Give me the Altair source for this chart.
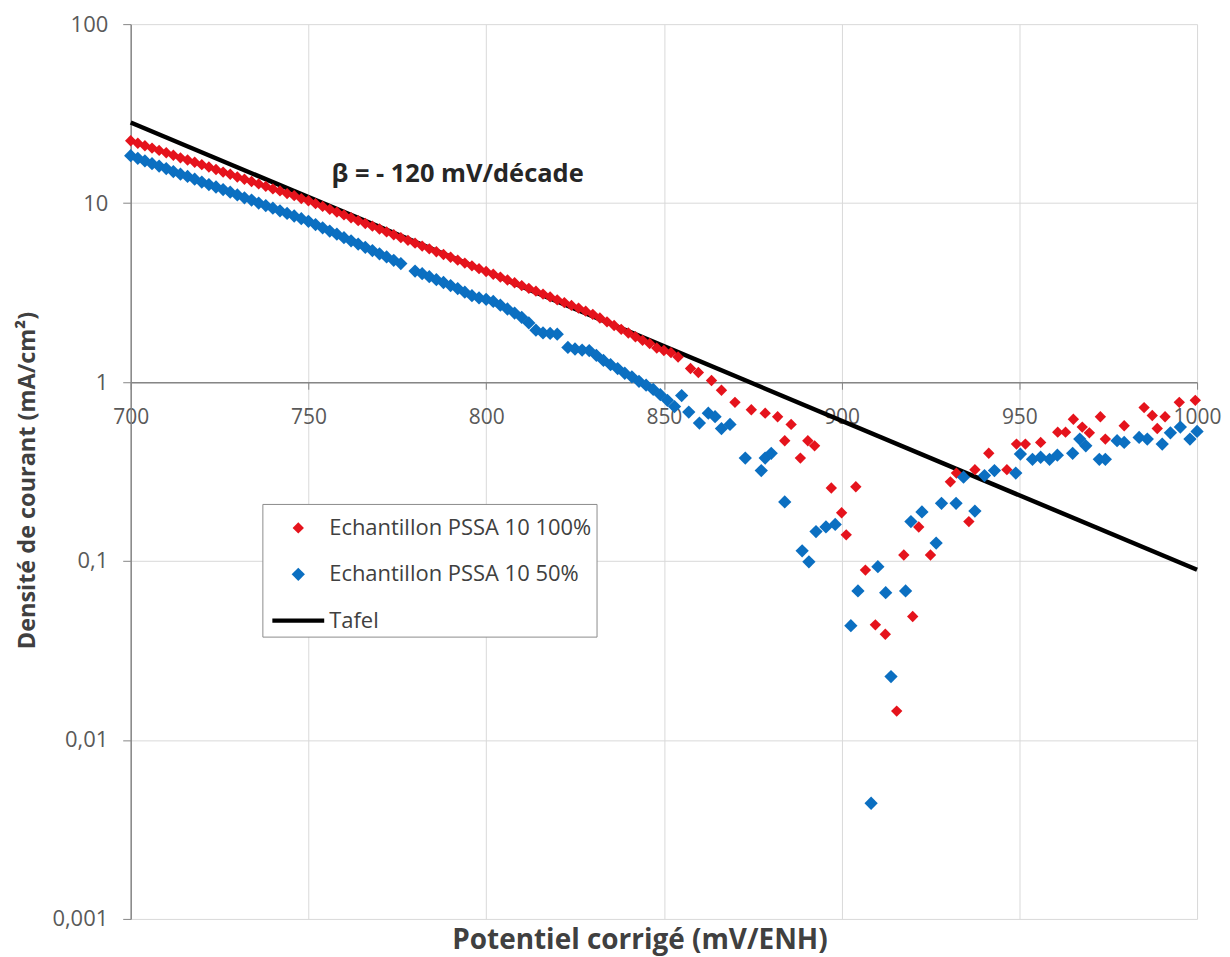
import altair as alt
import pandas as pd

# ---------------- data ----------------
red_mv = [700, 702, 704, 706, 708, 710, 712, 714, 716, 718,
          720, 722, 724, 726, 728, 730, 732, 734, 736, 738,
          740, 742, 744, 746, 748, 750, 752, 754, 756, 758,
          760, 762, 764, 766, 768, 770, 772, 774, 776, 778,
          780, 782, 784, 786, 788, 790, 792, 794, 796, 798,
          800, 802, 804, 806, 808, 810, 812, 814, 816, 818,
          820, 822, 824, 826, 828, 830, 832, 834, 836, 838,
          840, 842, 844, 846, 848, 850, 852, 854,
          857.5, 859.7, 863.4, 866.2, 870, 874.6, 878.5, 882, 884, 885.8,
          888.4, 890.5, 892.4, 897.1, 900, 901.3, 904, 906.7, 909.5, 912.3,
          915.5, 917.5, 920, 921.7, 925, 930.6, 932.3, 935.8, 937.5, 941.4,
          946.5, 949.2, 951.7, 956, 960.8, 963, 965.2, 967.7, 969.7, 972.8,
          974.2, 979.5, 985.1, 987.4, 988.8, 991, 995, 999.5]
red_ma = [22.3, 21.6, 20.9, 20.3, 19.7, 19.1, 18.5, 17.9, 17.4, 16.9,
          16.4, 15.9, 15.4, 14.9, 14.5, 14.0, 13.6, 13.2, 12.8, 12.4,
          12.0, 11.7, 11.3, 11.0, 10.6, 10.3, 9.93, 9.58, 9.23, 8.91,
          8.59, 8.28, 7.98, 7.69, 7.43, 7.16, 6.90, 6.65, 6.41, 6.19,
          5.97, 5.75, 5.55, 5.35, 5.16, 4.98, 4.80, 4.62, 4.46, 4.30,
          4.15, 4.00, 3.86, 3.72, 3.59, 3.46, 3.34, 3.22, 3.10, 2.99,
          2.88, 2.78, 2.68, 2.59, 2.49, 2.39, 2.28, 2.17, 2.07, 1.97,
          1.88, 1.79, 1.71, 1.64, 1.55, 1.50, 1.46, 1.38,
          1.19, 1.13, 1.02, 0.90, 0.77, 0.70, 0.67, 0.64, 0.47, 0.58,
          0.376, 0.47, 0.44, 0.256, 0.186, 0.14, 0.26, 0.089, 0.044, 0.039,
          0.0145, 0.108, 0.049, 0.155, 0.108, 0.277, 0.31, 0.166, 0.324, 0.40,
          0.324, 0.45, 0.45, 0.46, 0.525, 0.525, 0.62, 0.56, 0.52, 0.64,
          0.48, 0.57, 0.72, 0.65, 0.55, 0.64, 0.77, 0.79]

blue_mv = [700, 702, 704, 706, 708, 710, 712, 714, 716, 718,
           720, 722, 724, 726, 728, 730, 732, 734, 736, 738,
           740, 742, 744, 746, 748, 750, 752, 754, 756, 758,
           760, 762, 764, 766, 768, 770, 772, 774, 776,
           780, 782, 784, 786, 788, 790, 792, 794, 796, 798,
           800, 802, 804, 806, 808, 810, 812, 814, 816, 818, 820,
           823, 825, 827, 829, 831, 833, 835, 837, 839, 841,
           843, 845, 847, 849, 851, 853,
           855, 857, 860, 862.5, 864.4, 866.2, 868.6, 872.9, 877.4, 878.5,
           880.2, 884, 888.9, 890.8, 892.8, 895.6, 898.2, 902.6, 904.6, 908.3,
           910.2, 912.4, 913.9, 918, 919.5, 922.6, 926.6, 928.1, 932.2, 934.3,
           937.5, 940.2, 943, 949, 950.3, 953.7, 956, 958.5, 960.7, 965,
           967, 968.7, 972.5, 974.2, 977.5, 979.5, 983.7, 986, 990.2, 992.5,
           995.3, 998, 1000]
blue_ma = [18.4, 17.8, 17.2, 16.6, 16.1, 15.6, 15.0, 14.5, 14.1, 13.6,
           13.1, 12.7, 12.3, 11.9, 11.5, 11.1, 10.7, 10.4, 10.0, 9.69,
           9.37, 9.06, 8.75, 8.47, 8.18, 7.91, 7.59, 7.28, 6.98, 6.70,
           6.41, 6.15, 5.90, 5.66, 5.43, 5.21, 5.00, 4.79, 4.59,
           4.17, 4.03, 3.88, 3.73, 3.60, 3.46, 3.33, 3.18, 3.04, 2.95,
           2.90, 2.82, 2.69, 2.56, 2.43, 2.30, 2.14, 1.95, 1.88, 1.87, 1.85,
           1.56, 1.53, 1.51, 1.50, 1.41, 1.32, 1.25, 1.19, 1.12, 1.07,
           1.01, 0.96, 0.91, 0.85, 0.79, 0.73,
           0.84, 0.68, 0.59, 0.67, 0.64, 0.55, 0.58, 0.376, 0.32, 0.376,
           0.40, 0.214, 0.114, 0.099, 0.146, 0.155, 0.16, 0.0435, 0.068, 0.00443,
           0.093, 0.0665, 0.0226, 0.068, 0.166, 0.188, 0.126, 0.21, 0.21, 0.294,
           0.19, 0.30, 0.32, 0.31, 0.396, 0.37, 0.38, 0.37, 0.39, 0.40,
           0.48, 0.44, 0.37, 0.37, 0.47, 0.46, 0.49, 0.48, 0.45, 0.52,
           0.56, 0.48, 0.53]

tafel_mv = [700, 1000]
tafel_ma = [28.2, 0.0893]

series_names = ["Echantillon PSSA 10 100%", "Echantillon PSSA 10 50%", "Tafel"]
series_colors = ["#e5131c", "#0b6fc1", "#000000"]
series_shapes = ["M0,-0.30L0.30,0L0,0.30L-0.30,0Z",
                 "M0,-0.35L0.35,0L0,0.35L-0.35,0Z",
                 "M-1.368,-0.116L1.368,-0.116L1.368,0.116L-1.368,0.116Z"]

x_ticks = [700, 750, 800, 850, 900, 950, 1000]
y_ticks = [0.001, 0.01, 0.1, 1, 10, 100]

note_text = ["β = - 120 mV/décade"]
note_mv = [756.5]
note_ma = [14.6]

# ---------------- tables ----------------
pts = pd.DataFrame({
    "mv": red_mv + blue_mv,
    "ma": red_ma + blue_ma,
    "series": [series_names[0]] * len(red_mv) + [series_names[1]] * len(blue_mv),
})
tafel_df = pd.DataFrame({"mv": tafel_mv, "ma": tafel_ma})
note_df = pd.DataFrame({"mv": note_mv, "ma": note_ma, "label": note_text})

FONT = "Open Sans"
SYM = 1444
xscale = alt.Scale(domain=[700, 1000], nice=False, zero=False)
yscale = alt.Scale(type="log", domain=[0.001, 100], nice=False)

legend = alt.Legend(
    title=None, orient="none", legendX=132, legendY=481,
    padding=5, strokeColor="#8c8c8c", fillColor="white", cornerRadius=0,
    labelFont=FONT, labelFontSize=22, labelColor="#404040", labelLimit=400,
    symbolSize=SYM, symbolStrokeWidth=0, symbolOffset=12, labelOffset=12,
    rowPadding=16.5,
)

tafel = alt.Chart(tafel_df).mark_line(color="black", strokeWidth=4.5).encode(
    x=alt.X("mv:Q", scale=xscale, axis=alt.Axis(
        orient="bottom", values=x_ticks, grid=True, gridColor="#d9d9d9",
        labels=False, ticks=False, domain=False,
        title="Potentiel corrigé (mV/ENH)", titleFont=FONT, titleFontSize=28,
        titleFontWeight="bold", titleColor="#404040",
        titleX=510, titleY=30, titleAlign="center", titleBaseline="alphabetic")),
    y=alt.Y("ma:Q", scale=yscale, axis=alt.Axis(
        values=y_ticks, format="~g", labelExpr="replace(datum.label, '.', ',')",
        grid=True, gridColor="#d9d9d9",
        domainColor="#868686", domainWidth=1.5, tickColor="#868686", tickSize=8,
        labelPadding=15, labelFont=FONT, labelFontSize=22, labelColor="#595959",
        title="Densité de courant (mA/cm²)", titleFont=FONT, titleFontSize=23.5,
        titleFontWeight="bold", titleColor="#404040",
        titleAngle=270, titleX=-103, titleY=457, titleAlign="center",
        titleBaseline="middle")),
)

points = alt.Chart(pts).mark_point(filled=True, size=SYM, opacity=1, strokeWidth=0).encode(
    x=alt.X("mv:Q", scale=xscale, axis=alt.Axis(
        orient="bottom", offset=-538, values=x_ticks, format="d", grid=False,
        title=None, domainColor="#868686", domainWidth=1.5, tickColor="#868686",
        tickSize=7, labelPadding=17, labelFlush=False, labelFont=FONT,
        labelFontSize=21, labelColor="#595959")),
    y=alt.Y("ma:Q", scale=yscale, axis=None),
    color=alt.Color("series:N", scale=alt.Scale(domain=series_names, range=series_colors),
                    legend=legend),
    shape=alt.Shape("series:N", scale=alt.Scale(domain=series_names, range=series_shapes),
                    legend=legend),
)

note = alt.Chart(note_df).mark_text(
    align="left", baseline="middle", font=FONT, fontSize=25.5, fontWeight="bold",
    color="#262626").encode(
    x=alt.X("mv:Q", scale=xscale, axis=None),
    y=alt.Y("ma:Q", scale=yscale, axis=None),
    text="label:N",
)

chart = alt.layer(tafel, points, note).resolve_axis(
    x="independent", y="independent"
).properties(
    width=1069, height=897,
    padding={"left": 123, "top": 15, "right": 25, "bottom": 38},
    autosize=alt.AutoSizeParams(type="none"),
).configure_view(stroke=None)

chart.save("out.html", embed_options={"renderer": "svg", "actions": False})
